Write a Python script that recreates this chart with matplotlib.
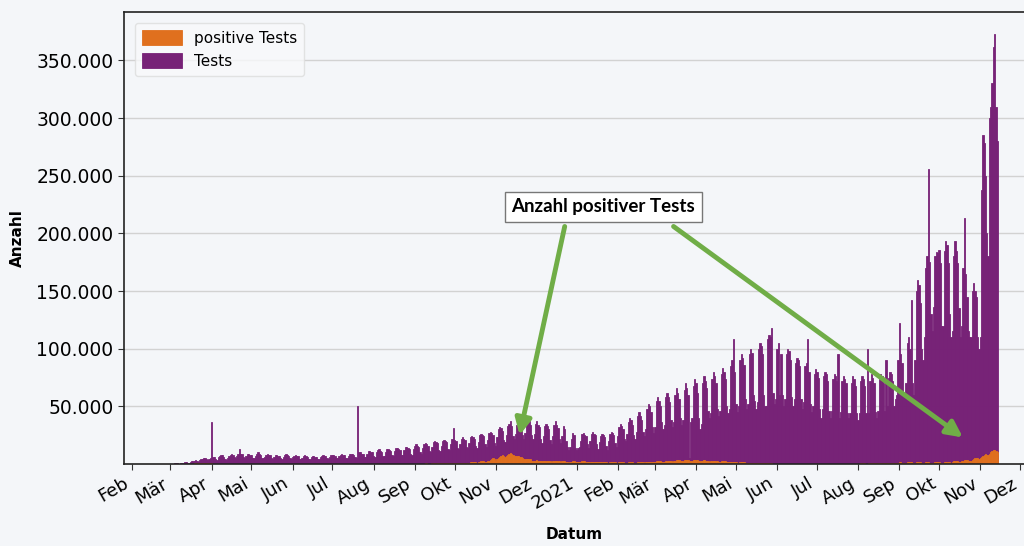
import matplotlib
matplotlib.use("Agg")
import matplotlib.pyplot as plt
from matplotlib.ticker import FuncFormatter
import pandas as pd

# daily values in thousands, one row per week, first row starts Mon 24.02.2020
FIRST_DAY = "2020-02-24"

tests_k = [
    [0.1, 0.1, 0.2, 0.2, 0.3, 0.1, 0.1],
    [0.3, 0.4, 0.5, 0.5, 0.6, 0.4, 0.3],
    [0.8, 1.0, 1.2, 1.4, 1.6, 1.2, 1.0],
    [1.8, 2.2, 2.6, 3.0, 3.2, 2.5, 2.0],
    [3.5, 4.0, 4.5, 5.0, 5.0, 4.0, 3.5],
    [4.5, 5.5, 36, 6.0, 6.5, 4.5, 3.5],
    [6, 7, 8, 7.5, 6, 4, 3.5],
    [5, 7, 8, 9, 8, 6, 5],
    [7, 9, 13, 9, 9, 6, 5],
    [7, 9, 9, 8, 8, 5, 5],
    [7, 9, 10, 9, 8, 5, 5],
    [6, 8, 9, 8, 8, 5, 4],
    [6, 8, 8, 7, 7, 5, 4],
    [6, 8, 9, 8, 7, 5, 4],
    [6, 7, 8, 7, 7, 4, 4],
    [5, 7, 8, 7, 6, 4, 4],
    [6, 7, 7, 6, 6, 4, 4],
    [6, 7, 8, 7, 7, 5, 4],
    [6, 8, 8, 8, 7, 5, 5],
    [7, 8, 9, 8, 8, 5, 5],
    [7, 9, 9, 9, 8, 6, 5],
    [50, 10, 10, 9, 9, 6, 6],
    [9, 11, 11, 10, 10, 7, 6],
    [10, 12, 13, 11, 10, 7, 7],
    [10, 13, 13, 12, 11, 8, 7],
    [11, 14, 14, 13, 12, 8, 8],
    [12, 15, 15, 14, 13, 9, 8],
    [13, 16, 17, 16, 15, 10, 9],
    [14, 17, 18, 17, 16, 11, 10],
    [15, 19, 20, 19, 18, 12, 11],
    [16, 20, 21, 20, 19, 13, 12],
    [17, 22, 31, 21, 20, 14, 13],
    [17, 22, 23, 22, 21, 15, 14],
    [18, 23, 24, 23, 22, 16, 14],
    [19, 25, 26, 25, 24, 17, 15],
    [21, 27, 28, 27, 25, 18, 16],
    [23, 30, 32, 31, 29, 21, 19],
    [25, 33, 35, 37, 33, 24, 22],
    [26, 34, 36, 35, 33, 25, 22],
    [27, 38, 40, 37, 34, 25, 22],
    [26, 35, 37, 34, 32, 22, 18],
    [24, 33, 35, 33, 30, 21, 17],
    [24, 34, 37, 34, 31, 22, 18],
    [24, 33, 30, 20, 15, 12, 15],
    [22, 27, 25, 14, 12, 14, 15],
    [20, 26, 27, 25, 24, 17, 14],
    [20, 26, 28, 26, 25, 17, 13],
    [19, 24, 26, 25, 23, 16, 12],
    [20, 26, 28, 27, 25, 18, 15],
    [24, 32, 35, 33, 30, 22, 20],
    [26, 36, 40, 38, 34, 25, 22],
    [28, 42, 45, 42, 38, 28, 24],
    [30, 48, 52, 50, 45, 32, 27],
    [32, 55, 58, 55, 50, 36, 30],
    [34, 58, 62, 58, 54, 38, 32],
    [36, 60, 66, 62, 56, 40, 34],
    [38, 64, 70, 66, 60, 5, 36],
    [40, 68, 74, 70, 62, 40, 30],
    [35, 70, 76, 72, 66, 46, 40],
    [44, 74, 80, 76, 70, 48, 42],
    [46, 78, 83, 80, 74, 50, 44],
    [48, 85, 90, 108, 80, 52, 45],
    [50, 90, 95, 92, 86, 56, 48],
    [52, 95, 100, 96, 60, 55, 48],
    [54, 100, 105, 102, 95, 60, 50],
    [50, 108, 112, 110, 118, 62, 52],
    [56, 100, 105, 60, 95, 60, 50],
    [56, 95, 100, 98, 90, 58, 50],
    [56, 88, 92, 90, 85, 56, 48],
    [54, 85, 88, 108, 80, 52, 45],
    [50, 78, 82, 80, 75, 48, 40],
    [48, 76, 80, 78, 72, 46, 40],
    [46, 74, 78, 76, 72, 95, 40],
    [45, 72, 76, 74, 70, 44, 40],
    [44, 70, 76, 74, 68, 44, 38],
    [44, 72, 76, 74, 68, 44, 100],
    [44, 72, 78, 75, 70, 45, 40],
    [46, 74, 78, 76, 70, 46, 90],
    [50, 75, 80, 78, 72, 50, 56],
    [60, 90, 122, 95, 88, 60, 58],
    [70, 105, 110, 100, 142, 70, 60],
    [90, 150, 160, 155, 140, 100, 90],
    [110, 170, 180, 256, 175, 130, 115],
    [136, 180, 184, 183, 186, 174, 120],
    [120, 185, 193, 190, 174, 130, 110],
    [115, 180, 193, 185, 174, 135, 110],
    [120, 170, 213, 165, 145, 115, 110],
    [110, 150, 157, 150, 145, 110, 100],
    [110, 238, 285, 278, 250, 200, 180],
    [300, 310, 330, 362, 373, 310, 280],
]

positives_k = [
    [0, 0, 0, 0, 0, 0, 0],
    [0, 0, 0, 0, 0, 0.01, 0.01],
    [0.02, 0.05, 0.07, 0.1, 0.15, 0.15, 0.2],
    [0.3, 0.3, 0.4, 0.5, 0.6, 0.6, 0.7],
    [0.9, 0.8, 0.9, 1.1, 1.0, 0.7, 0.6],
    [0.6, 0.8, 0.5, 0.4, 0.4, 0.3, 0.2],
    [0.3, 0.3, 0.3, 0.2, 0.2, 0.1, 0.1],
    [0.1, 0.1, 0.1, 0.1, 0.1, 0.1, 0.05],
    [0.08, 0.08, 0.07, 0.07, 0.06, 0.05, 0.04],
    [0.06, 0.07, 0.07, 0.06, 0.05, 0.04, 0.04],
    [0.05, 0.06, 0.06, 0.05, 0.05, 0.04, 0.03],
    [0.04, 0.05, 0.05, 0.05, 0.04, 0.03, 0.03],
    [0.04, 0.05, 0.05, 0.04, 0.04, 0.03, 0.03],
    [0.04, 0.05, 0.05, 0.05, 0.04, 0.03, 0.03],
    [0.05, 0.06, 0.06, 0.05, 0.05, 0.04, 0.03],
    [0.05, 0.06, 0.07, 0.06, 0.05, 0.04, 0.04],
    [0.06, 0.07, 0.08, 0.07, 0.06, 0.05, 0.05],
    [0.07, 0.09, 0.1, 0.09, 0.08, 0.06, 0.05],
    [0.08, 0.1, 0.11, 0.1, 0.09, 0.07, 0.06],
    [0.09, 0.11, 0.12, 0.11, 0.1, 0.08, 0.07],
    [0.1, 0.12, 0.13, 0.12, 0.11, 0.09, 0.08],
    [0.1, 0.13, 0.14, 0.13, 0.12, 0.1, 0.09],
    [0.12, 0.14, 0.15, 0.14, 0.13, 0.1, 0.09],
    [0.13, 0.15, 0.17, 0.16, 0.14, 0.11, 0.1],
    [0.15, 0.18, 0.2, 0.19, 0.17, 0.13, 0.12],
    [0.18, 0.22, 0.25, 0.24, 0.21, 0.16, 0.14],
    [0.22, 0.27, 0.3, 0.29, 0.26, 0.2, 0.17],
    [0.28, 0.34, 0.38, 0.37, 0.33, 0.26, 0.22],
    [0.35, 0.42, 0.47, 0.46, 0.42, 0.33, 0.28],
    [0.6, 0.7, 0.8, 0.8, 0.7, 0.6, 0.5],
    [0.7, 0.8, 0.9, 0.9, 0.8, 0.7, 0.6],
    [0.8, 0.9, 1.0, 1.0, 0.9, 0.8, 0.7],
    [0.9, 1.1, 1.2, 1.3, 1.2, 1.0, 0.9],
    [1.2, 1.5, 1.6, 1.8, 1.7, 1.4, 1.2],
    [1.6, 2.0, 2.3, 2.5, 2.4, 2.0, 1.8],
    [2.5, 3.0, 3.5, 4.0, 5.0, 4.0, 3.0],
    [4.0, 5.0, 6.0, 7.0, 8.0, 7.0, 6.0],
    [7.0, 8.0, 9.0, 9.5, 9.0, 8.0, 7.0],
    [7.0, 7.0, 7.0, 6.0, 6.0, 5.0, 4.0],
    [4.0, 4.0, 4.0, 4.0, 4.0, 3.0, 3.0],
    [3.0, 3.0, 3.5, 3.0, 3.0, 2.5, 2.5],
    [2.5, 2.5, 3.0, 2.8, 2.6, 2.2, 2.0],
    [2.2, 2.6, 3.0, 2.8, 2.6, 2.2, 2.0],
    [2.2, 2.6, 2.8, 2.0, 1.5, 1.2, 1.5],
    [2.0, 2.5, 2.6, 1.5, 1.8, 1.6, 1.7],
    [2.0, 2.2, 2.4, 2.3, 2.0, 1.8, 1.5],
    [1.6, 1.9, 2.1, 2.0, 1.9, 1.6, 1.4],
    [1.5, 1.8, 2.0, 1.9, 1.8, 1.5, 1.3],
    [1.3, 1.6, 1.7, 1.7, 1.6, 1.4, 1.2],
    [1.2, 1.5, 1.6, 1.6, 1.5, 1.3, 1.1],
    [1.2, 1.5, 1.6, 1.6, 1.5, 1.3, 1.1],
    [1.3, 1.6, 1.8, 1.8, 1.7, 1.4, 1.2],
    [1.5, 1.9, 2.1, 2.1, 2.0, 1.7, 1.4],
    [1.8, 2.2, 2.4, 2.4, 2.3, 2.0, 1.7],
    [2.0, 2.6, 2.9, 2.8, 2.6, 2.3, 2.0],
    [2.5, 3.0, 3.3, 3.3, 3.1, 2.7, 2.4],
    [2.8, 3.3, 3.6, 3.5, 3.3, 2.9, 2.6],
    [2.9, 3.4, 3.6, 3.4, 3.2, 2.8, 2.2],
    [2.4, 3.0, 3.2, 3.0, 2.9, 2.5, 2.1],
    [2.2, 2.7, 2.9, 2.8, 2.6, 2.2, 1.9],
    [1.9, 2.3, 2.5, 2.4, 2.2, 1.9, 1.6],
    [1.6, 2.0, 2.1, 2.0, 1.9, 1.6, 1.3],
    [1.3, 1.6, 1.7, 1.6, 1.5, 1.2, 1.0],
    [1.0, 1.2, 1.3, 1.0, 1.0, 0.9, 0.7],
    [0.8, 0.9, 1.0, 0.9, 0.8, 0.6, 0.5],
    [0.5, 0.6, 0.6, 0.5, 0.5, 0.4, 0.3],
    [0.4, 0.4, 0.4, 0.3, 0.3, 0.3, 0.2],
    [0.2, 0.25, 0.25, 0.2, 0.2, 0.15, 0.12],
    [0.12, 0.15, 0.15, 0.13, 0.12, 0.1, 0.08],
    [0.1, 0.12, 0.12, 0.11, 0.1, 0.08, 0.07],
    [0.1, 0.12, 0.13, 0.12, 0.11, 0.09, 0.08],
    [0.12, 0.15, 0.17, 0.16, 0.15, 0.12, 0.1],
    [0.15, 0.2, 0.22, 0.22, 0.2, 0.16, 0.14],
    [0.18, 0.24, 0.27, 0.26, 0.24, 0.2, 0.17],
    [0.2, 0.3, 0.4, 0.4, 0.4, 0.3, 0.3],
    [0.4, 0.5, 0.5, 0.5, 0.5, 0.4, 0.3],
    [0.5, 0.6, 0.7, 0.7, 0.6, 0.5, 0.4],
    [0.7, 0.9, 1.0, 1.0, 0.9, 0.7, 0.6],
    [0.9, 1.1, 1.2, 1.2, 1.1, 0.9, 0.8],
    [1.0, 1.3, 1.4, 1.4, 1.3, 1.1, 0.9],
    [1.2, 1.5, 1.6, 1.6, 1.5, 1.2, 1.0],
    [1.2, 1.5, 1.6, 1.5, 1.4, 1.2, 1.0],
    [1.1, 1.4, 1.5, 1.4, 1.3, 1.1, 0.9],
    [1.1, 1.4, 1.5, 1.5, 1.4, 1.2, 1.0],
    [1.3, 1.7, 1.9, 1.9, 1.8, 1.5, 1.3],
    [1.6, 2.2, 2.5, 2.5, 2.4, 2.0, 1.8],
    [2.2, 3.0, 3.4, 3.5, 3.4, 2.9, 2.6],
    [3.0, 3.5, 4.5, 5.0, 5.5, 5.0, 4.5],
    [5.0, 6.0, 7.0, 8.0, 8.5, 8.0, 7.5],
    [9.0, 10.0, 11.0, 12.0, 12.0, 11.0, 10.0],
]

month_labels = ["Feb", "Mär", "Apr", "Mai", "Jun", "Jul", "Aug", "Sep", "Okt", "Nov", "Dez",
                "2021", "Feb", "Mär", "Apr", "Mai", "Jun", "Jul", "Aug", "Sep", "Okt", "Nov", "Dez"]
y_ticks = [50000, 100000, 150000, 200000, 250000, 300000, 350000]

PURPLE = "#772277"
ORANGE = "#e0701e"
GREEN = "#70ad47"
BG = "#f4f6f9"

tests = [v * 1000 for week in tests_k for v in week]
positives = [v * 1000 for week in positives_k for v in week]
dates = pd.date_range(FIRST_DAY, periods=len(tests), freq="D")

fig = plt.figure(figsize=(10.24, 5.46), dpi=100, facecolor=BG)
ax = fig.add_axes([124 / 1024, 82 / 546, 900 / 1024, 452 / 546], facecolor=BG)

# thin edge in the same colour closes the antialiasing gaps between daily bars
bars_tests = ax.bar(dates, tests, width=1.0, color=PURPLE, edgecolor=PURPLE,
                    linewidth=0.6, label="Tests")
bars_pos = ax.bar(dates, positives, width=1.0, color=ORANGE, edgecolor=ORANGE,
                  linewidth=0.6, label="positive Tests")

ax.set_xlim(pd.Timestamp("2020-01-26"), pd.Timestamp("2021-12-04"))
ax.set_ylim(0, 392000)

# x axis: month ticks with german names
month_ticks = pd.date_range("2020-02-01", "2021-12-01", freq="MS")
ax.set_xticks(month_ticks)
ax.set_xticklabels(month_labels, rotation=30, ha="right", fontsize=13)

ax.set_yticks(y_ticks)
ax.yaxis.set_major_formatter(FuncFormatter(lambda v, p: f"{int(v):,}".replace(",", ".")))
ax.tick_params(axis="y", labelsize=13.5)
ax.tick_params(axis="both", length=4, color="#333333")

ax.yaxis.grid(True, color="#d2d2d2", linewidth=1)
ax.set_axisbelow(True)
ax.spines["right"].set_visible(False)
for s in ["top", "left", "bottom"]:
    ax.spines[s].set_color("#222222")
    ax.spines[s].set_linewidth(1.2)

ax.set_ylabel("Anzahl", fontsize=11, fontweight="bold", labelpad=8)
ax.set_xlabel("Datum", fontsize=11, fontweight="bold", labelpad=10)

ax.legend([bars_pos, bars_tests], ["positive Tests", "Tests"], loc="upper left",
          fontsize=11, handlelength=2.6, handleheight=1.1, frameon=True,
          facecolor="#f8f9fb", edgecolor="#dddddd", borderpad=0.45,
          bbox_to_anchor=(0.004, 0.992))

# annotation box with two arrows
ax.text(pd.Timestamp("2021-01-21"), 223000, "Anzahl positiver Tests", ha="center", va="center",
        fontsize=13.5, fontweight="bold", family=["Lato", "DejaVu Sans"],
        bbox=dict(boxstyle="square,pad=0.35", facecolor="white", edgecolor="#777777", linewidth=1))
arrow = dict(arrowstyle="-|>", color=GREEN, lw=3.5, mutation_scale=24, shrinkA=0, shrinkB=0)
ax.annotate("", xy=(pd.Timestamp("2020-11-19"), 25000),
            xytext=(pd.Timestamp("2020-12-23"), 206000), arrowprops=arrow)
ax.annotate("", xy=(pd.Timestamp("2021-10-19"), 23000),
            xytext=(pd.Timestamp("2021-03-15"), 206000), arrowprops=arrow)

fig.savefig("out.png", dpi=100, facecolor=BG)
